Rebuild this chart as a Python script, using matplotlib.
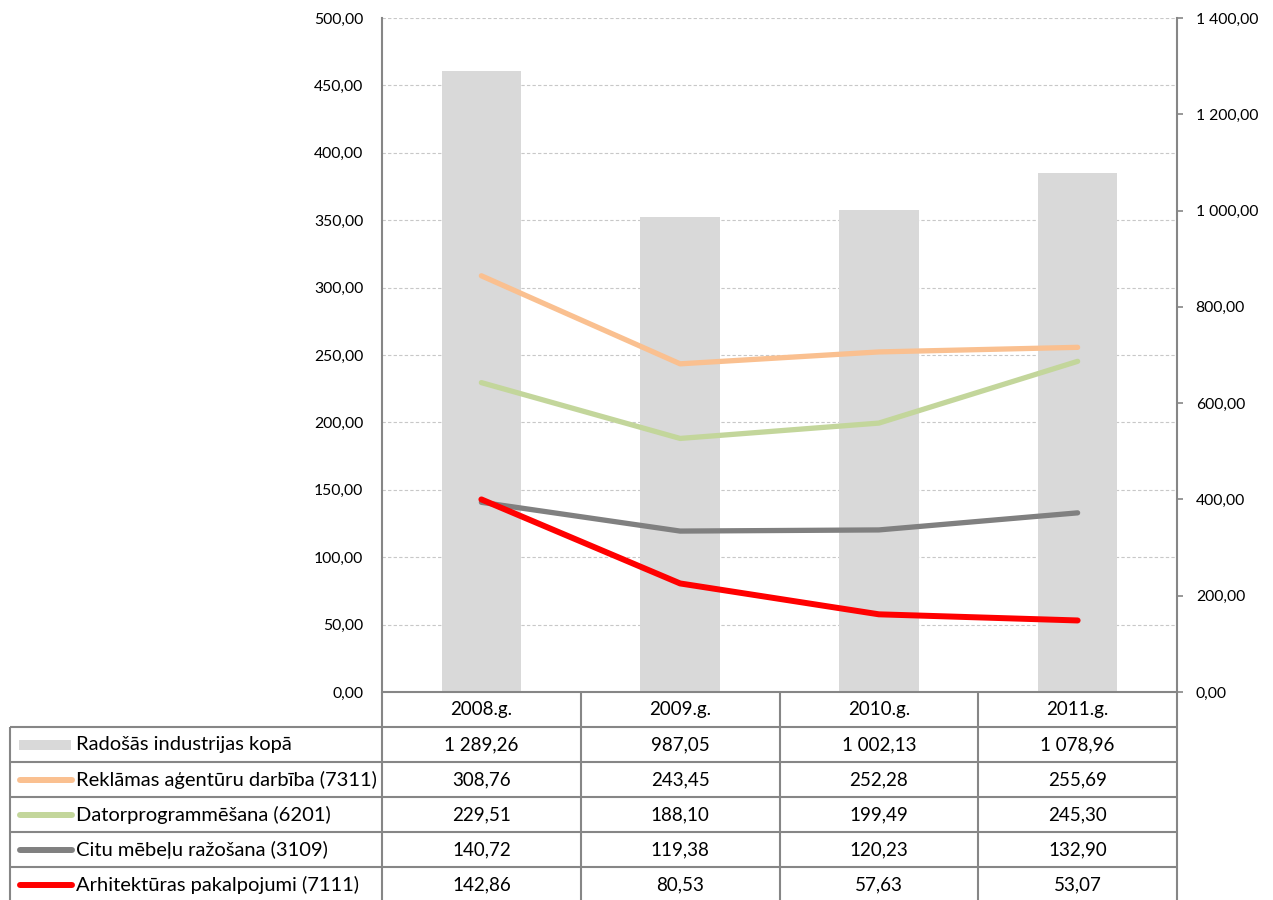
import matplotlib
matplotlib.use('Agg')
import matplotlib.pyplot as plt
from matplotlib.transforms import blended_transform_factory
from matplotlib.patches import Rectangle
import numpy as np

plt.rcParams['font.family'] = ['Lato', 'DejaVu Sans']

years = ['2008.g.', '2009.g.', '2010.g.', '2011.g.']
total = [1289.26, 987.05, 1002.13, 1078.96]
reklama = [308.76, 243.45, 252.28, 255.69]
dator = [229.51, 188.10, 199.49, 245.30]
mebeles = [140.72, 119.38, 120.23, 132.90]
arhitekt = [142.86, 80.53, 57.63, 53.07]

series_labels = ['Radošās industrijas kopā', 'Reklāmas aģentūru darbība (7311)',
                 'Datorprogrammēšana (6201)', 'Citu mēbeļu ražošana (3109)',
                 'Arhitektūras pakalpojumi (7111)']
bar_color = '#d9d9d9'
line_series = [reklama, dator, mebeles, arhitekt]
line_colors = ['#fac090', '#c3d69b', '#808080', '#ff0000']
line_widths = [3.8, 3.8, 3.8, 4.3]

left_ticks = np.arange(0, 501, 50)
right_ticks = np.arange(0, 1401, 200)

def fmt(v):
    return f"{v:,.2f}".replace(',', ' ').replace('.', ',')

W, H = 1273, 900
fig = plt.figure(figsize=(W / 100, H / 100), dpi=100)
FS_AX = 11.3
FS_TAB = 13.5
FS_LEG = 14.5
GRAY = '#868686'

x0, x1, y0, y1 = 382, 1177, 18, 692
rect = [x0 / W, (H - y1) / H, (x1 - x0) / W, (y1 - y0) / H]

# bars axis (right scale), below
axb = fig.add_axes(rect)
# lines axis (left scale), above
ax = fig.add_axes(rect, sharex=axb)
ax.set_zorder(axb.get_zorder() + 1)
ax.patch.set_visible(False)

x = np.arange(len(years))
axb.set_xlim(-0.5, len(years) - 0.5)
axb.set_ylim(0, 1400)
ax.set_ylim(0, 500)

# gridlines (left scale) drawn behind the bars
for t in left_ticks[1:]:
    axb.axhline(t * 1400 / 500, color='#c8c8c8', lw=0.8, ls=(0, (3, 2)), zorder=0)

axb.bar(x, total, width=0.4, color=bar_color, zorder=2)
for vals, c, lw in zip(line_series, line_colors, line_widths):
    ax.plot(x, vals, color=c, lw=lw, solid_capstyle='round', solid_joinstyle='round', zorder=3)

# right axis
axb.yaxis.tick_right()
axb.set_yticks(right_ticks)
axb.set_yticklabels([fmt(t) for t in right_ticks], fontsize=FS_AX)
axb.tick_params(axis='y', direction='out', length=4.5, width=1.2, color=GRAY, pad=9)
axb.tick_params(axis='x', length=0, labelbottom=False)
for s in ['top', 'left', 'bottom']:
    axb.spines[s].set_visible(False)
axb.spines['right'].set_color(GRAY)
axb.spines['right'].set_linewidth(1.5)

# left axis
ax.set_yticks(left_ticks)
ax.set_yticklabels([fmt(t) for t in left_ticks], fontsize=FS_AX)
ax.tick_params(axis='y', length=0, pad=13.5)
ax.tick_params(axis='x', length=0, labelbottom=False)
for s in ['top', 'right', 'bottom']:
    ax.spines[s].set_visible(False)
ax.spines['left'].set_color(GRAY)
ax.spines['left'].set_linewidth(1.5)

# data table
tax = fig.add_axes([0, 0, 1, 1])
tax.set_xlim(0, W)
tax.set_ylim(H, 0)
tax.axis('off')
tax.patch.set_visible(False)
tr = blended_transform_factory(ax.transData, tax.transData)

row_h = 35.0
n_rows = 1 + len(series_labels)
row_tops = [y1 + i * row_h for i in range(n_rows + 1)]
legend_x = 10
lkw = dict(color=GRAY, lw=1.5, solid_capstyle='butt')

# horizontal lines
tax.plot([x0, x1], [y1, y1], **lkw)
for yy in row_tops[1:]:
    tax.plot([legend_x, x1], [yy, yy], **lkw)
# vertical lines
for i in range(len(years) + 1):
    tax.plot([i - 0.5, i - 0.5], [y1, row_tops[-1]], transform=tr, **lkw)
tax.plot([legend_x, legend_x], [row_tops[1], row_tops[-1]], **lkw)

# header
for i, yr in enumerate(years):
    tax.text(i, (row_tops[0] + row_tops[1]) / 2, yr, transform=tr,
             ha='center', va='center', fontsize=FS_TAB)

table_data = [total] + line_series
for r, (lab, vals) in enumerate(zip(series_labels, table_data)):
    yc = (row_tops[r + 1] + row_tops[r + 2]) / 2
    if r == 0:
        tax.add_patch(Rectangle((19, yc - 5), 52, 10, color=bar_color, lw=0))
    else:
        tax.plot([20, 72], [yc, yc], color=line_colors[r - 1], lw=4.3, solid_capstyle='round')
    tax.text(76, yc, lab, ha='left', va='center', fontsize=FS_LEG)
    for i, v in enumerate(vals):
        tax.text(i, yc, fmt(v), transform=tr, ha='center', va='center', fontsize=FS_TAB)

fig.savefig('out.png', dpi=100)
